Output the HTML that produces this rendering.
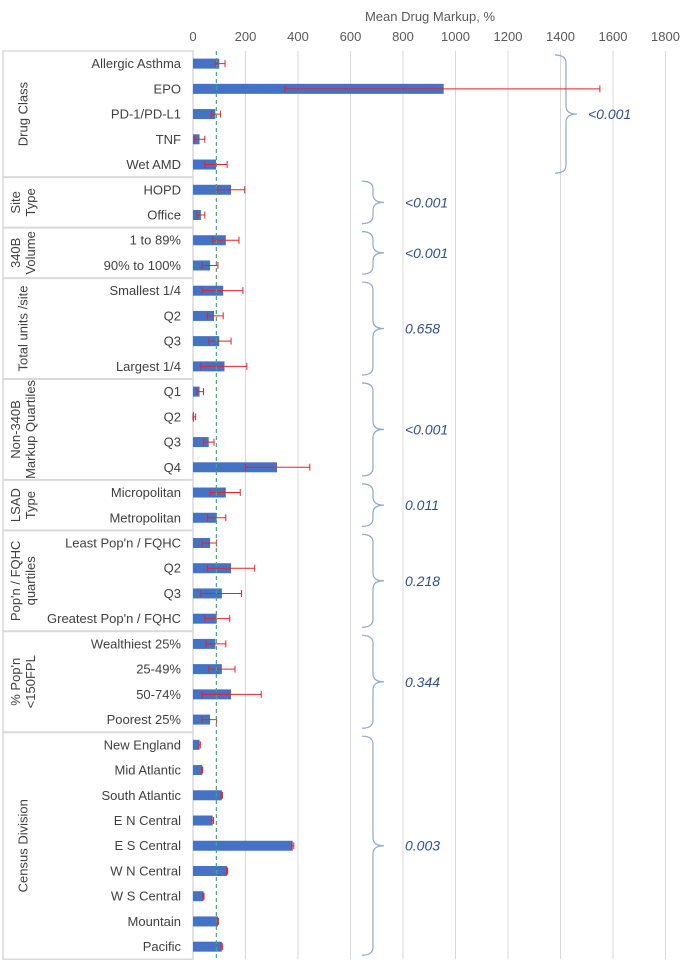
<!DOCTYPE html>
<html><head><meta charset="utf-8"><style>
html,body{margin:0;padding:0;background:#fff;}
svg{display:block;font-family:"Liberation Sans",sans-serif;}
</style></head><body>
<svg id="chart" width="692" height="972"></svg>
<script>
const categories=["Allergic Asthma","EPO","PD-1/PD-L1","TNF","Wet AMD","HOPD","Office","1 to 89%","90% to 100%","Smallest 1/4","Q2","Q3","Largest 1/4","Q1","Q2","Q3","Q4","Micropolitan","Metropolitan","Least Pop'n / FQHC ","Q2","Q3","Greatest Pop'n / FQHC","Wealthiest 25%","25-49%","50-74%","Poorest 25%","New England","Mid Atlantic","South Atlantic","E N Central","E S Central","W N Central","W S Central","Mountain","Pacific"];
const values=[100,955,85,25,88,145,30,125,65,115,80,100,120,25,3,60,320,125,90,65,145,110,90,85,110,145,65,25,35,110,75,380,130,40,95,110];
const errLow=[85,350,70,5,45,95,15,75,35,35,55,60,30,15,0,40,200,65,55,35,55,30,45,50,60,35,35,22,33,108,72,376,128,38,93,107];
const errHigh=[122,1550,105,45,130,197,45,175,95,190,115,145,205,40,10,80,445,180,125,90,235,185,140,125,160,260,90,28,37,112,78,384,132,42,97,113];
const groupNames=[["Drug Class"],["Site","Type"],["340B","Volume"],["Total units /site"],["Non-340B","Markup Quartiles"],["LSAD","Type"],["Pop'n / FQHC","quartiles"],["% Pop'n","<150FPL"],["Census Division"]];
const groupSizes=[5,2,2,4,4,2,4,4,9];
const pValues=["<0.001","<0.001","<0.001","0.658","<0.001","0.011","0.218","0.344","0.003"];
const ticks=[0,200,400,600,800,1000,1200,1400,1600,1800];
const refLine=89;

const svg=document.getElementById('chart');
const NS="http://www.w3.org/2000/svg";
const x0=193, pxPer=0.2625, topY=51, rowH=25.23;
const xs=v=>x0+v*pxPer;
const yc=i=>topY+rowH*(i+0.5);
function mk(tag,attrs,parent){const e=document.createElementNS(NS,tag);for(const k in attrs)e.setAttribute(k,attrs[k]);(parent||svg).appendChild(e);return e;}
const bottomY=topY+rowH*categories.length;
ticks.forEach(t=>{
  const g=mk('line',{x1:xs(t),x2:xs(t),y1:topY,y2:bottomY,stroke:'#d9d9d9','stroke-width':1});
  
  
  const tl=mk('text',{x:xs(t),y:41,'text-anchor':'middle','font-size':13,fill:'#595959'});
  tl.textContent=t;
  
  
});
const at=mk('text',{x:430,y:21,'text-anchor':'middle','font-size':13,fill:'#595959'});
at.textContent="Mean Drug Markup, %";


const panel=mk('rect',{x:3,y:topY,width:x0-3,height:bottomY-topY,fill:'none',stroke:'#d9d9d9','stroke-width':1.5});


let start=0;
groupSizes.forEach((n,gi)=>{
  const y1=topY+start*rowH, y2=topY+(start+n)*rowH;
  if(gi>0){const l=mk('line',{x1:3,x2:x0,y1:y1,y2:y1,stroke:'#d9d9d9','stroke-width':2});
    
    }
  const cy=(y1+y2)/2, lines=groupNames[gi];
  lines.forEach((s,li)=>{
    const cx=24+(li-(lines.length-1)/2)*15;
    const t=mk('text',{x:cx,y:cy,'text-anchor':'middle','dominant-baseline':'middle','font-size':13,fill:'#404040',transform:`rotate(-90 ${cx} ${cy})`});
    t.textContent=s;
    
    
  });
  const bx=gi===0?555:362, by1=y1+4, by2=y2-4, my=(by1+by2)/2, w=22;
  const d=`M${bx},${by1} Q${bx+w*0.5},${by1} ${bx+w*0.5},${by1+8} L${bx+w*0.5},${my-8} Q${bx+w*0.5},${my} ${bx+w},${my} Q${bx+w*0.5},${my} ${bx+w*0.5},${my+8} L${bx+w*0.5},${by2-8} Q${bx+w*0.5},${by2} ${bx},${by2}`;
  const b=mk('path',{d:d,fill:'none',stroke:'#8fa8cc','stroke-width':1.2});
  
  
  const p=mk('text',{x:gi===0?588:405,y:my+5,'font-size':14,'font-style':'italic',fill:'#2f4f8f'});
  p.textContent=pValues[gi];
  
  
  start+=n;
});
categories.forEach((c,i)=>{
  const y=yc(i);
  const lb=mk('text',{x:181,y:y+4.5,'text-anchor':'end','font-size':13,fill:'#404040'});
  lb.textContent=c;
  
  
  const r=mk('rect',{x:x0,y:y-5,width:Math.max(values[i]*pxPer,1),height:10,fill:'#4472c4'});
  
  
  const e=mk('path',{d:`M${xs(errLow[i])},${y} H${xs(errHigh[i])} M${xs(errLow[i])},${y-3.5} v7 M${xs(errHigh[i])},${y-3.5} v7`,stroke:'#e8202a','stroke-width':1,fill:'none'});
  
  
});
const rl=mk('line',{x1:xs(refLine),x2:xs(refLine),y1:topY,y2:bottomY,stroke:'#2bb673','stroke-width':1.2,'stroke-dasharray':'4,3'});


</script>
</body></html>
